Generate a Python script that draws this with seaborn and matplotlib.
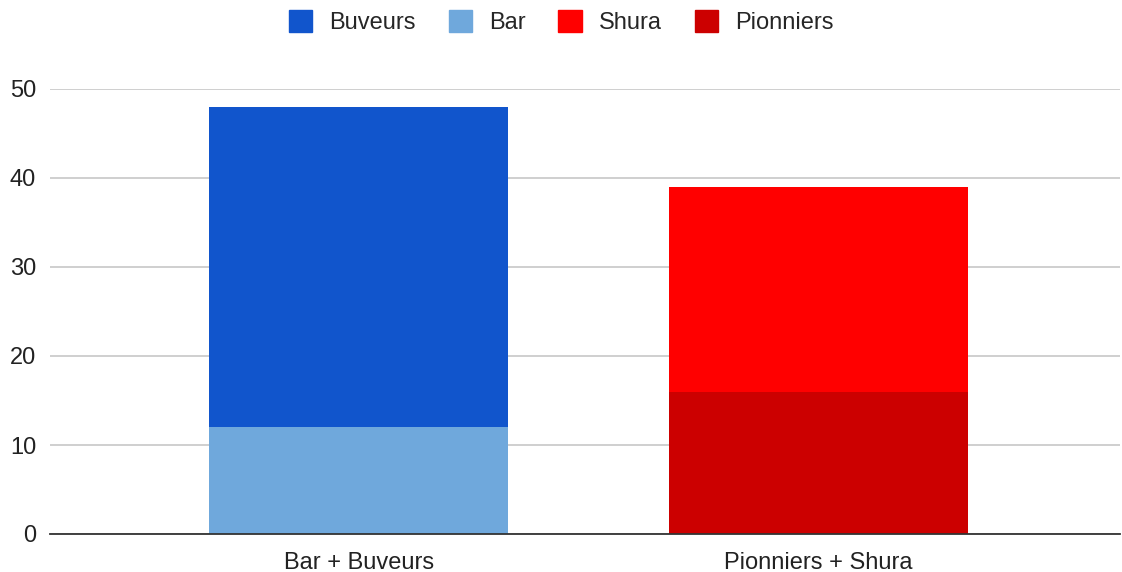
import matplotlib
matplotlib.use("Agg")
import matplotlib.pyplot as plt
import seaborn as sns
from matplotlib.patches import Patch

categories = ["Bar + Buveurs", "Pionniers + Shura"]
buveurs = [36, 0]
bar = [12, 0]
shura = [0, 23]
pionniers = [0, 16]

sns.set_style("white")
plt.rcParams["font.family"] = ["Liberation Sans", "DejaVu Sans"]

fig = plt.figure(figsize=(11.22, 5.72), dpi=100)
ax = fig.add_axes([50 / 1122, 38 / 572, 1070 / 1122, 445 / 572])

# bottom segments first, then the top ones stacked on them
kw = dict(width=0.65, saturation=1, linewidth=0, ax=ax)
sns.barplot(x=categories, y=bar, color="#6fa8dc", **kw)
sns.barplot(x=categories, y=pionniers, color="#cc0000", **kw)
sns.barplot(x=categories, y=buveurs, bottom=bar, color="#1155cc", **kw)
sns.barplot(x=categories, y=shura, bottom=pionniers, color="#ff0000", **kw)

ax.set_xlim(-0.672, 1.656)
ax.set_ylim(0, 50)
ax.set_yticks([0, 10, 20, 30, 40, 50])
ax.yaxis.grid(True, color="#cccccc", linewidth=1.3)
ax.set_axisbelow(True)
for s in ["top", "right", "left"]:
    ax.spines[s].set_visible(False)
ax.spines["bottom"].set_color("#333333")
ax.spines["bottom"].set_linewidth(1.3)
ax.tick_params(axis="both", length=0, labelsize=17, colors="#222222")
ax.tick_params(axis="y", pad=10)
ax.tick_params(axis="x", pad=13)
ax.set_xlabel("")
ax.set_ylabel("")

handles = [Patch(color="#1155cc", label="Buveurs"),
           Patch(color="#6fa8dc", label="Bar"),
           Patch(color="#ff0000", label="Shura"),
           Patch(color="#cc0000", label="Pionniers")]
fig.legend(handles=handles, loc="center", bbox_to_anchor=(0.5, 1 - 22 / 572), ncol=4,
           frameon=False, fontsize=17, handlelength=1.0, handleheight=1.1,
           handletextpad=0.7, columnspacing=1.4)

fig.savefig("out.png", dpi=100)
